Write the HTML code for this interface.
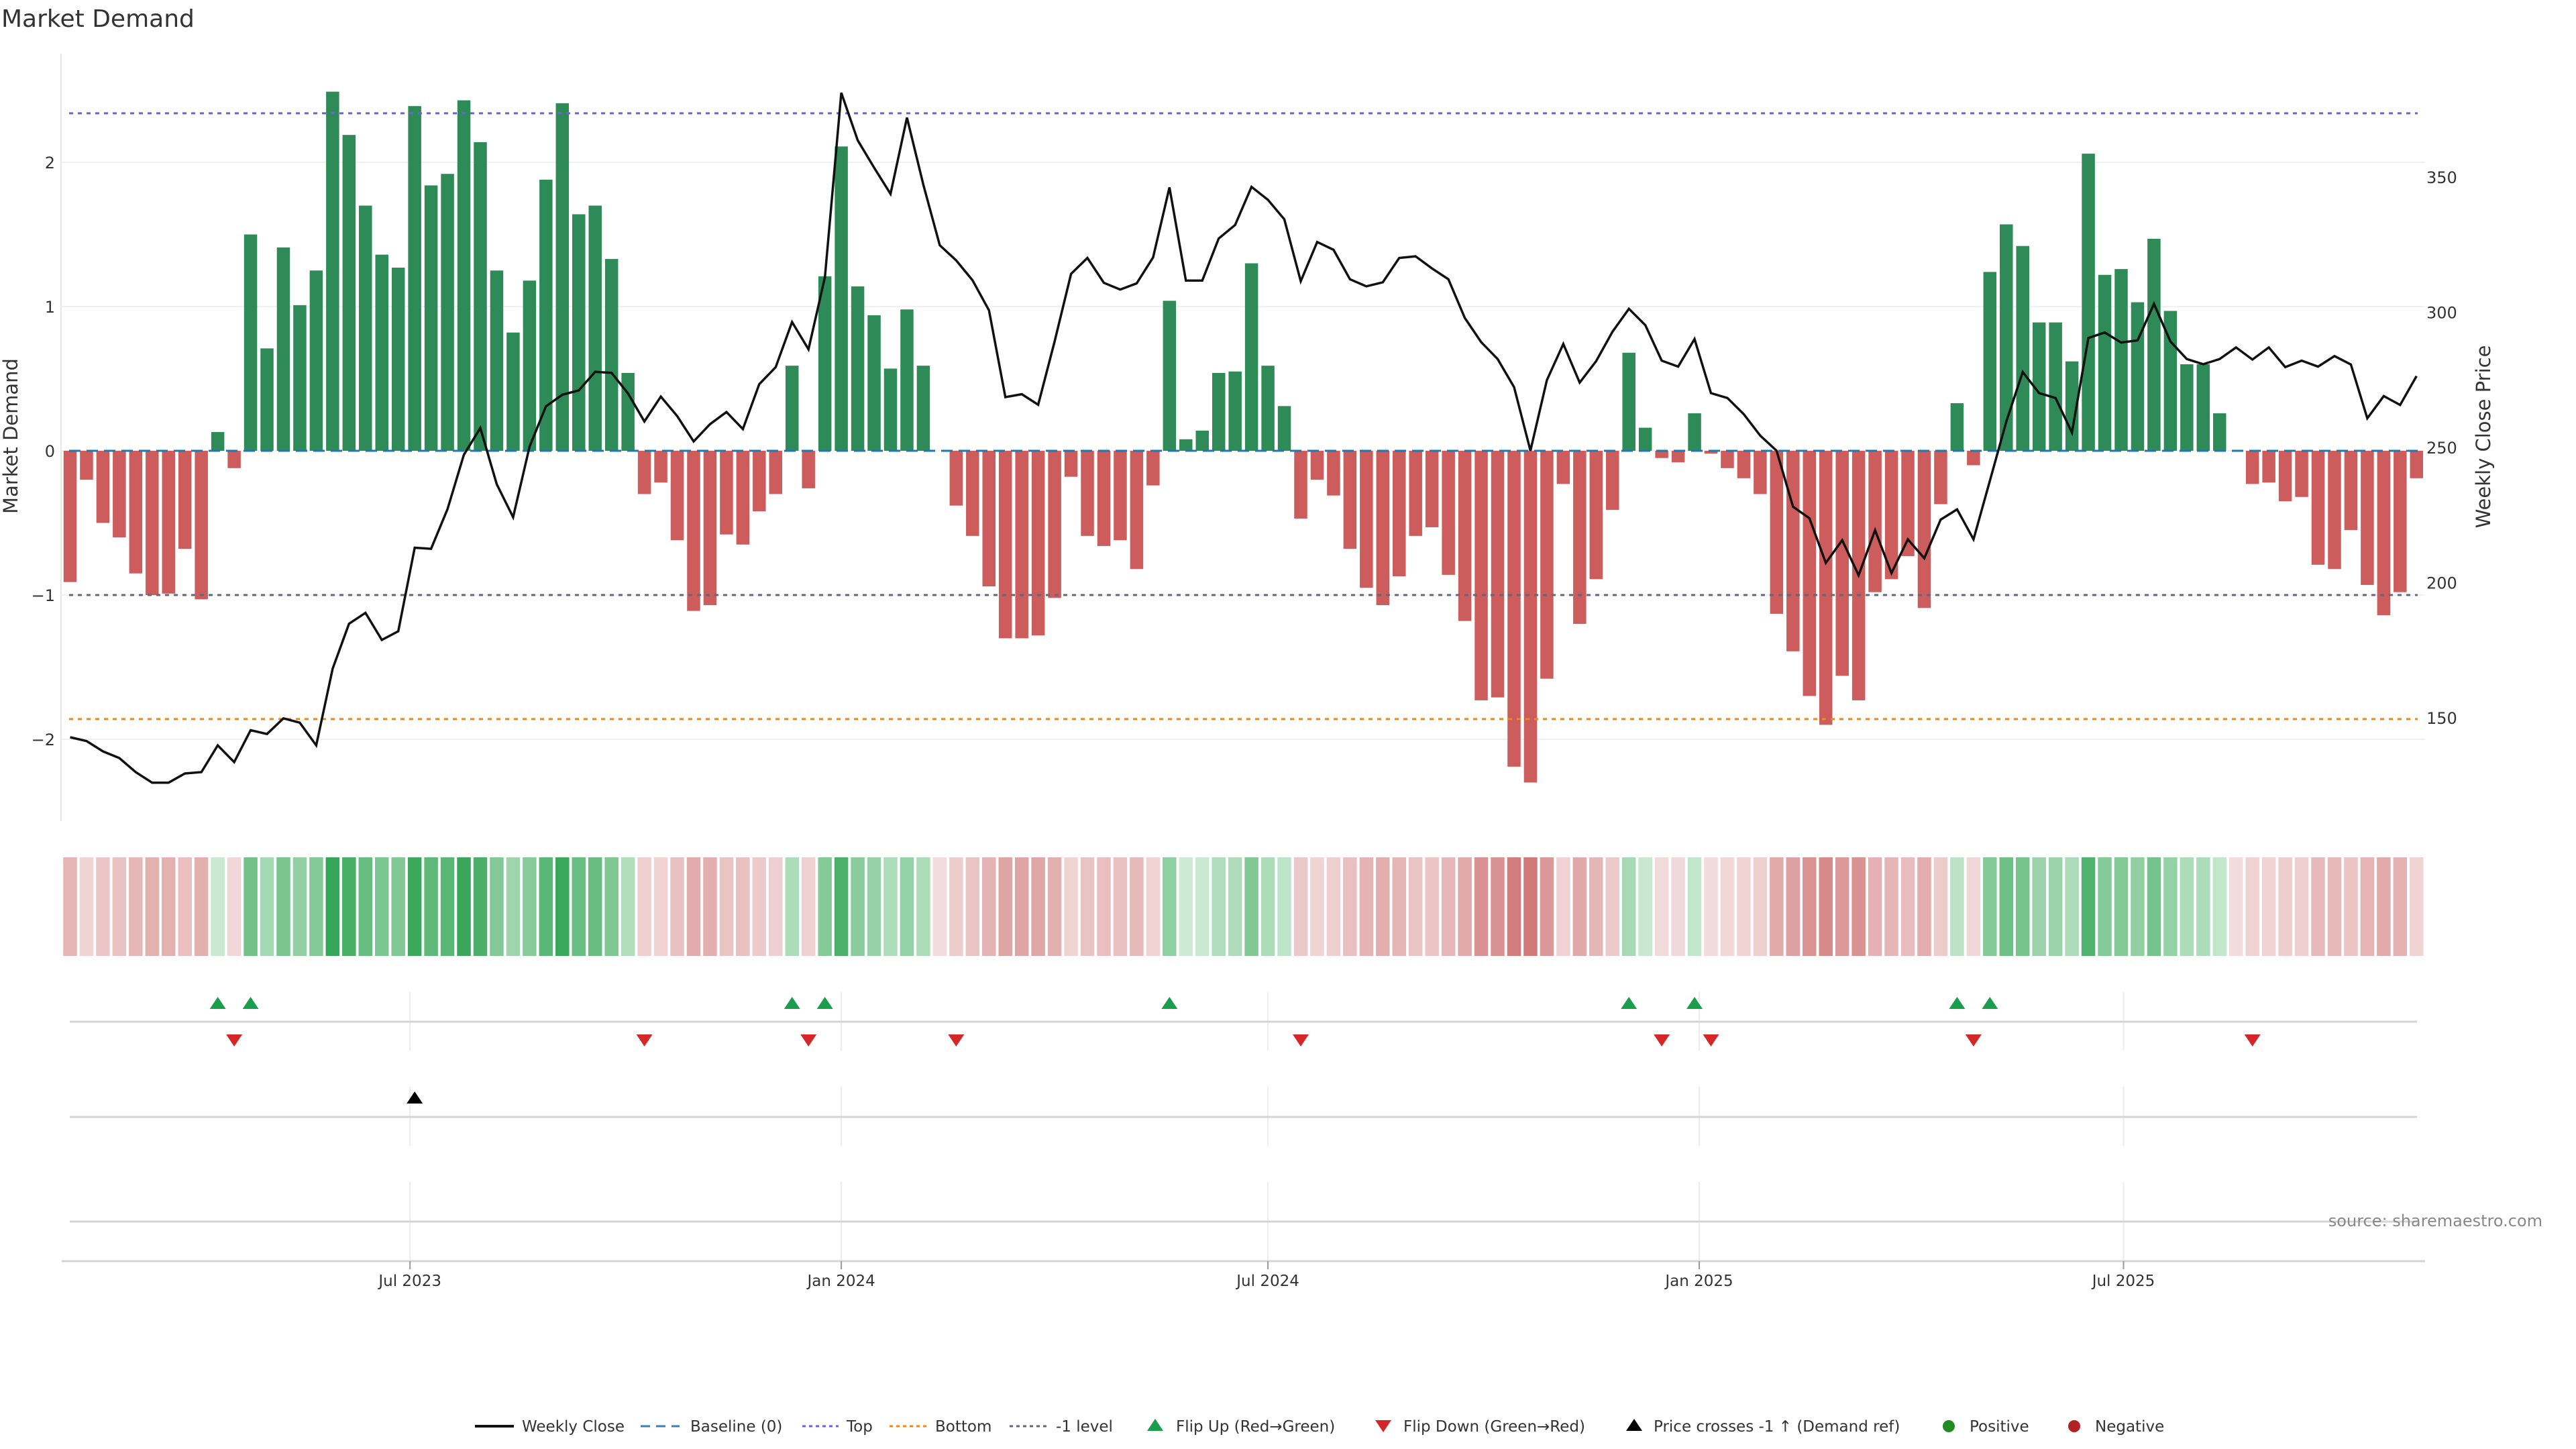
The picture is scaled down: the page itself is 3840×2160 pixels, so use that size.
<!DOCTYPE html>
<html><head><meta charset="utf-8"><style>
html,body{margin:0;padding:0;background:#fff;}
svg{display:block;font-family:"DejaVu Sans","Liberation Sans",sans-serif;}
</style></head><body>
<svg id="chart" width="3840" height="2160" viewBox="0 0 3840 2160">
<rect width="3840" height="2160" fill="#fff"/>
<text x="2" y="40" font-size="36" fill="#333">Market Demand</text>
<g id="main"></g>
<g id="heat"></g>
<g id="lower"></g>
<g id="legend"></g>
<text x="3790" y="1828" font-size="24" fill="#888" text-anchor="end">source: sharemaestro.com</text>
</svg>
<script>
const startDate = '2023-02-06';
const demand = [-0.91,-0.20,-0.50,-0.60,-0.85,-1.00,-0.99,-0.68,-1.03,0.13,-0.12,1.50,0.71,1.41,1.01,1.25,2.49,2.19,1.70,1.36,1.27,2.39,1.84,1.92,2.43,2.14,1.25,0.82,1.18,1.88,2.41,1.64,1.70,1.33,0.54,-0.30,-0.22,-0.62,-1.11,-1.07,-0.58,-0.65,-0.42,-0.30,0.59,-0.26,1.21,2.11,1.14,0.94,0.57,0.98,0.59,0,-0.38,-0.59,-0.94,-1.30,-1.30,-1.28,-1.02,-0.18,-0.59,-0.66,-0.62,-0.82,-0.24,1.04,0.08,0.14,0.54,0.55,1.30,0.59,0.31,-0.47,-0.20,-0.31,-0.68,-0.95,-1.07,-0.87,-0.59,-0.53,-0.86,-1.18,-1.73,-1.71,-2.19,-2.30,-1.58,-0.23,-1.20,-0.89,-0.41,0.68,0.16,-0.05,-0.08,0.26,-0.02,-0.12,-0.19,-0.30,-1.13,-1.39,-1.70,-1.90,-1.56,-1.73,-0.98,-0.89,-0.73,-1.09,-0.37,0.33,-0.10,1.24,1.57,1.42,0.89,0.89,0.62,2.06,1.22,1.26,1.03,1.47,0.97,0.60,0.60,0.26,0,-0.23,-0.22,-0.35,-0.32,-0.79,-0.82,-0.55,-0.93,-1.14,-0.98,-0.19];
const price = [142.8,141.4,137.6,135.1,129.9,126.0,126.0,129.4,129.9,139.8,133.6,145.4,144.0,149.8,148.2,139.8,168.2,184.8,188.8,178.8,182.0,212.9,212.5,227.2,247.3,257.2,236.4,224.2,250.3,265.2,269.5,271.1,278.0,277.6,270.0,259.6,268.8,261.6,252.2,258.6,263.1,256.8,273.4,279.7,296.4,286.3,313.0,381.2,363.6,353.5,343.8,372.0,347.2,324.8,319.2,311.8,300.7,268.6,269.7,265.8,289.2,314.2,320.1,310.9,308.4,310.7,320.3,346.2,311.7,311.7,327.3,332.3,346.4,341.6,334.4,311.5,326.0,323.1,312.2,309.6,311.1,320.1,320.7,316.2,312.2,297.9,288.9,282.7,272.3,248.8,274.9,288.3,274.0,281.9,292.8,301.3,295.2,282.1,279.9,290.1,270.1,268.3,262.3,254.4,248.8,228.1,223.8,207.3,215.7,202.7,219.4,203.5,216.0,209.0,223.3,227.1,216.0,237.7,259.6,277.9,270.1,268.3,255.5,290.5,292.5,288.8,289.6,303.1,289.2,282.7,280.8,282.7,287.0,282.5,287.0,279.7,282.1,279.9,283.8,280.7,260.8,269.0,265.7,276.4];
const demandTicks = [-2,-1,0,1,2];
const priceTicks = [150,200,250,300,350];
const dateTicks = ['2023-07-01','2024-01-01','2024-07-01','2025-01-01','2025-07-01'];
const dateTickLabels = ['Jul 2023','Jan 2024','Jul 2024','Jan 2025','Jul 2025'];
const topLevel = 2.34;
const bottomLevel = -1.86;
const minusLevel = -1;

const NS='http://www.w3.org/2000/svg';
const X0=104.5, STEP=24.46, PL=91, PR=3614;
function xi(i){return X0+i*STEP;}
function xd(d){const t=(new Date(d)-new Date(startDate))/86400000/7;return X0+t*STEP;}
function yD(v){return 672-v*215;}
function yP(p){return 667-(p-250)*4.03;}
function mk(tag,attrs,parent){const e=document.createElementNS(NS,tag);for(const k in attrs)e.setAttribute(k,attrs[k]);parent.appendChild(e);return e;}
const main=document.getElementById('main');
const heat=document.getElementById('heat');
const lower=document.getElementById('lower');
const legend=document.getElementById('legend');

// axis line & grid
let ax=mk('line',{x1:PL,x2:PL,y1:80,y2:1224,stroke:'#e6e6e6','stroke-width':2},main);


demandTicks.forEach(v=>{
  const g=mk('line',{x1:PL,x2:PR,y1:yD(v),y2:yD(v),stroke:'#eef0f3','stroke-width':2},main);
  
  
  const t=mk('text',{x:82,y:yD(v)+9,'font-size':24,fill:'#333','text-anchor':'end'},main);
  t.textContent=v<0?'\u2212'+Math.abs(v):String(v);
  
  
});
priceTicks.forEach(p=>{
  const t=mk('text',{x:3617,y:yP(p)+9,'font-size':24,fill:'#333'},main);
  t.textContent=String(p);
  
  
});
let yt=mk('text',{x:0,y:0,'font-size':29,fill:'#333','text-anchor':'middle',transform:'translate(26,650) rotate(-90)'},main);
yt.textContent='Market Demand';


let yt2=mk('text',{x:0,y:0,'font-size':29,fill:'#333','text-anchor':'middle',transform:'translate(3712,651) rotate(-90)'},main);
yt2.textContent='Weekly Close Price';



// bars
demand.forEach((v,i)=>{
  if(v===0)return;
  const y0=yD(0),y1=yD(v);
  const b=mk('rect',{x:xi(i)-9.75,width:19.5,y:Math.min(y0,y1),height:Math.abs(y1-y0),fill:v>0?'#2e8b57':'#cd5c5c'},main);
  
  
});
// reference lines
function hline(v,color,dash,name){
  const l=mk('line',{x1:PL+12,x2:PR-10,y1:yD(v),y2:yD(v),stroke:color,'stroke-width':3,'stroke-dasharray':dash},main);
  
  
}
hline(topLevel,'#6f5fd9','6 7','top-line');
hline(bottomLevel,'#e8891c','6 7','bottom-line');
hline(minusLevel,'#66667a','6 7','minus-one-line');
hline(0,'#1f77b4','17 9','baseline-zero');
// price line
let pts=price.map((p,i)=>xi(i).toFixed(1)+','+yP(p).toFixed(1)).join(' ');
let pl=mk('polyline',{points:pts,fill:'none',stroke:'#111','stroke-width':3.5,'stroke-linejoin':'miter'},main);



// heatmap
function lerp(a,b,t){return Math.round(a+(b-a)*t);}
demand.forEach((v,i)=>{
  let c;
  if(v>0){const t=Math.min(v/2.5,1);c=`rgb(${lerp(210,52,t)},${lerp(237,165,t)},${lerp(216,86,t)})`;}
  else{const t=Math.min(-v/2.5,1);c=`rgb(${lerp(243,205,t)},${lerp(220,112,t)},${lerp(220,112,t)})`;}
  const r=mk('rect',{x:xi(i)-10.25,width:20.5,y:1278,height:147,fill:c},heat);
  
  
});

// lower panels
[[1479,1566],[1620,1708],[1762,1880]].forEach(([a,b])=>{
  dateTicks.forEach(d=>{
    const g=mk('line',{x1:xd(d),x2:xd(d),y1:a,y2:b,stroke:'#ececec','stroke-width':2},lower);
    
    
  });
});
[1523,1665,1821].forEach(y=>{
  const l=mk('line',{x1:104,x2:3603,y1:y,y2:y,stroke:'#d4d4d4','stroke-width':3},lower);
  
  
});
let xa=mk('line',{x1:92,x2:3615,y1:1880,y2:1880,stroke:'#d4d4d4','stroke-width':3},lower);


dateTicks.forEach((d,k)=>{
  const tk=mk('line',{x1:xd(d),x2:xd(d),y1:1880,y2:1892,stroke:'#999','stroke-width':2},lower);
  
  
  const t=mk('text',{x:xd(d),y:1917,'font-size':23,fill:'#333','text-anchor':'middle'},lower);
  t.textContent=dateTickLabels[k];
  
  
});
function tri(cx,cy,up,color,parent){
  const w=12,h=9;
  const p=up?`${cx-w},${cy+h} ${cx+w},${cy+h} ${cx},${cy-h}`:`${cx-w},${cy-h} ${cx+w},${cy-h} ${cx},${cy+h}`;
  return mk('polygon',{points:p,fill:color},parent);
}
for(let i=1;i<demand.length;i++){
  if(demand[i]>0&&demand[i-1]<=0){
    const t=tri(xi(i),1495,true,'#1a9e4e',lower);
    
    
  }
  if(demand[i]<0&&demand[i-1]>=0){
    const t=tri(xi(i),1551,false,'#d62728',lower);
    
    
  }
}
const crossPrice=250+(667-yD(minusLevel))/4.03;
for(let i=1;i<price.length;i++){
  if(price[i-1]<crossPrice&&price[i]>=crossPrice){
    const t=tri(xi(i),1636,true,'#000',lower);
    
    
  }
}

// legend
const LY=2126;
function ltext(x,s){const t=mk('text',{x:x,y:LY+8,'font-size':23,fill:'#333'},legend);t.textContent=s;return t;}
function lline(x1,x2,color,dash,w){return mk('line',{x1:x1,x2:x2,y1:LY,y2:LY,stroke:color,'stroke-width':w,'stroke-dasharray':dash},legend);}
let e;
e=lline(708,766,'#111','',4);
e=ltext(778,'Weekly Close');
e=lline(955,1013,'#3f7fb0','14 9',3);
e=ltext(1029,'Baseline (0)');
e=lline(1196,1250,'#6f5fd9','5 5',3);
e=ltext(1262,'Top');
e=lline(1326,1382,'#e8891c','5 5',3);
e=ltext(1394,'Bottom');
e=lline(1505,1562,'#66667a','5 5',3);
e=ltext(1574,'-1 level');
e=tri(1722,LY-2,true,'#1a9e4e',legend);
e=ltext(1753,'Flip Up (Red\u2192Green)');
e=tri(2062,LY,false,'#d62728',legend);
e=ltext(2092,'Flip Down (Green\u2192Red)');
e=tri(2436,LY-2,true,'#000',legend);
e=ltext(2465,'Price crosses -1 \u2191 (Demand ref)');
e=mk('circle',{cx:2905,cy:LY,r:9,fill:'#228b22'},legend);
e=ltext(2936,'Positive');
e=mk('circle',{cx:3092,cy:LY,r:9,fill:'#b22222'},legend);
e=ltext(3123,'Negative');
</script>
</body></html>
